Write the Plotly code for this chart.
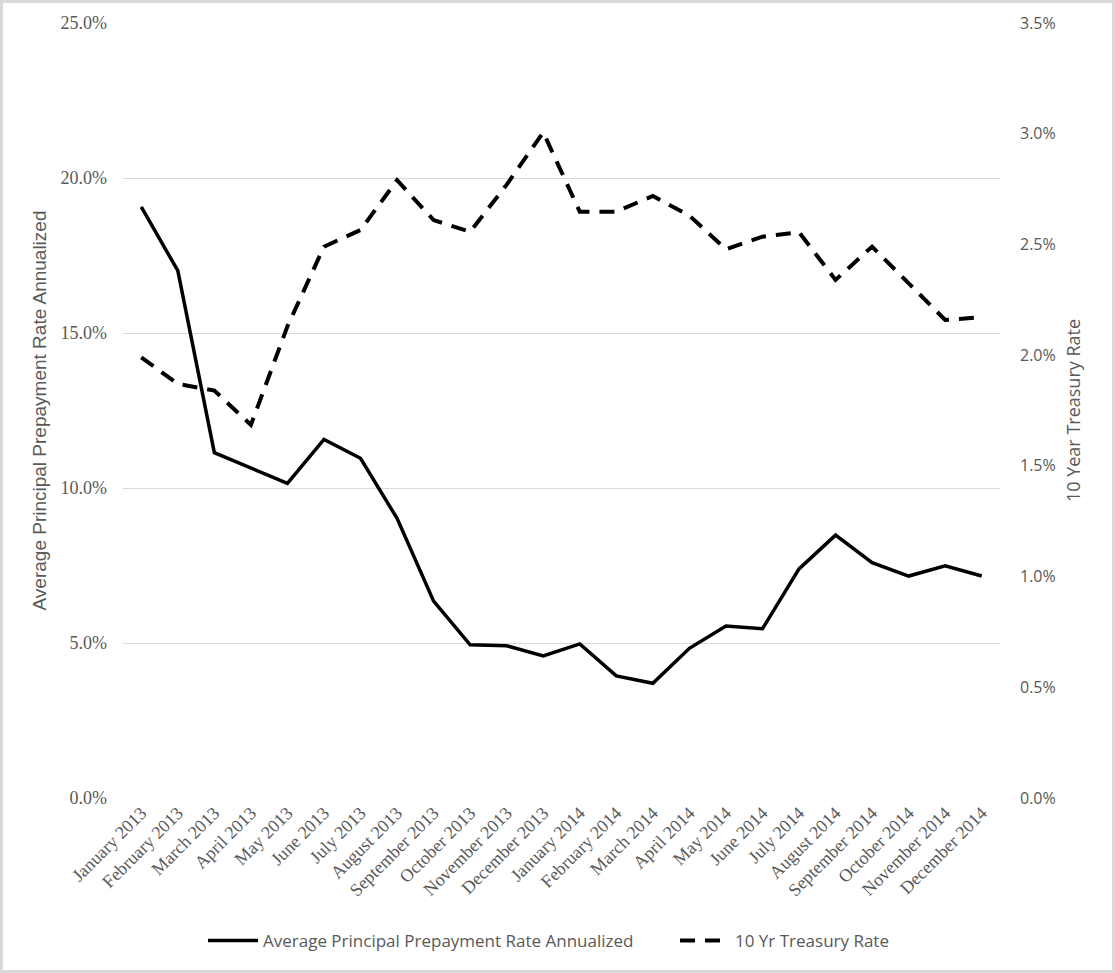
import plotly.graph_objects as go

months = ["January 2013", "February 2013", "March 2013", "April 2013", "May 2013", "June 2013",
          "July 2013", "August 2013", "September 2013", "October 2013", "November 2013", "December 2013",
          "January 2014", "February 2014", "March 2014", "April 2014", "May 2014", "June 2014",
          "July 2014", "August 2014", "September 2014", "October 2014", "November 2014", "December 2014"]

prepay_rate = [19.07, 17.01, 11.14, 10.64, 10.15, 11.57, 10.96, 9.02, 6.35, 4.94, 4.91, 4.58,
               4.97, 3.94, 3.70, 4.83, 5.55, 5.46, 7.39, 8.48, 7.59, 7.16, 7.49, 7.16]

treasury_rate = [1.99, 1.87, 1.84, 1.685, 2.13, 2.49, 2.565, 2.79, 2.61, 2.557, 2.77, 3.006,
                 2.648, 2.648, 2.719, 2.63, 2.478, 2.535, 2.555, 2.34, 2.49, 2.325, 2.159, 2.171]

left_ticks = [0, 5, 10, 15, 20, 25]
left_labels = ["0.0%", "5.0%", "10.0%", "15.0%", "20.0%", "25.0%"]
right_ticks = [0, 0.5, 1.0, 1.5, 2.0, 2.5, 3.0, 3.5]
right_labels = ["0.0%", "0.5%", "1.0%", "1.5%", "2.0%", "2.5%", "3.0%", "3.5%"]

SERIF = "Liberation Serif, Times New Roman, serif"
SANS = "Open Sans, sans-serif"
ARIAL = "Liberation Sans, Arial, sans-serif"
GRAY = "#595959"

fig = go.Figure()
fig.add_trace(go.Scatter(
    x=months, y=prepay_rate, mode="lines",
    name="Average Principal Prepayment Rate Annualized",
    line=dict(color="black", width=3.5),
    yaxis="y", legend="legend"))
fig.add_trace(go.Scatter(
    x=months, y=treasury_rate, mode="lines",
    name="10 Yr Treasury Rate",
    line=dict(color="black", width=4, dash="15px,10px"),
    yaxis="y2", legend="legend2"))

W, H = 1115, 973
L, R, T, B = 123, 115, 23, 175
pw, ph = W - L - R, H - T - B

leg_y = (798 - 941) / ph
legend_font = dict(family=SANS, size=17, color=GRAY)

fig.update_layout(
    width=W, height=H,
    margin=dict(l=L, r=R, t=T, b=B, autoexpand=False),
    paper_bgcolor="white", plot_bgcolor="white",
    showlegend=True,
    legend=dict(orientation="h", x=(203 - L) / pw, xanchor="left", y=leg_y, yanchor="middle",
                font=legend_font, itemwidth=50, bgcolor="rgba(0,0,0,0)"),
    legend2=dict(orientation="h", x=(675 - L) / pw, xanchor="left", y=leg_y, yanchor="middle",
                 font=legend_font, itemwidth=50, bgcolor="rgba(0,0,0,0)"),
    xaxis=dict(type="category", range=[-0.5, 23.5], tickangle=-45,
               tickfont=dict(family=SERIF, size=18, color=GRAY),
               showgrid=False, showline=False, ticks="", zeroline=False),
    yaxis=dict(range=[0, 25], tickvals=left_ticks, ticktext=left_labels,
               tickfont=dict(family=SERIF, size=18, color=GRAY),
               showgrid=True, gridcolor="#d9d9d9", gridwidth=1, zeroline=False,
               showline=False, ticks="", ticklabelstandoff=15,
               title=dict(text="Average Principal Prepayment Rate Annualized",
                          font=dict(family=ARIAL, size=19, color=GRAY), standoff=8)),
    yaxis2=dict(range=[0, 3.5], tickvals=right_ticks, ticktext=right_labels,
                overlaying="y", side="right",
                tickfont=dict(family=SANS, size=16, color=GRAY),
                showgrid=False, zeroline=False, showline=False, ticks="", ticklabelstandoff=19,
                title=dict(text="10 Year Treasury Rate",
                           font=dict(family=SANS, size=18, color=GRAY), standoff=12)),
)

fig.add_shape(type="rect", xref="paper", yref="paper",
              x0=-(L - 1.5) / pw, x1=1 + (R - 1.5) / pw,
              y0=-(B - 1.5) / ph, y1=1 + (T - 1.5) / ph,
              line=dict(color="#d9d9d9", width=3), fillcolor="rgba(0,0,0,0)", layer="above")

fig.write_html("out.html", config={"displayModeBar": False},
               post_script="document.body.style.margin='0px';")
